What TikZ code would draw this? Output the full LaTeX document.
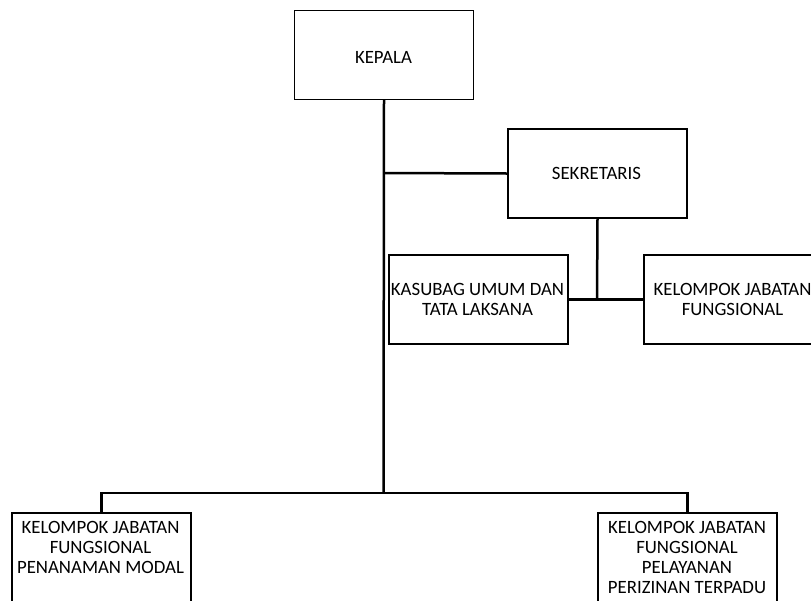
\documentclass[tikz,border=0pt]{standalone}
\usepackage{fontspec}
\setmainfont{Carlito}
\begin{document}
\begin{tikzpicture}[x=1pt,y=-1pt,
  box/.style={draw=black,line width=2pt,fill=white,minimum width=179pt,minimum height=89pt,inner sep=0pt,anchor=north west},
  thinbox/.style={box,line width=1pt},
  lbl/.style={align=center,font=\fontsize{18.8}{20}\selectfont,inner sep=0pt},
  conn/.style={draw=black,line width=2.5pt}]
\useasboundingbox (0,0) rectangle (811,600);
\clip (0,0) rectangle (811,600);
% boxes
\node[thinbox] (kepala) at (294,10) {};
\node[box] (sek) at (507,128) {};
\node[box] (kasubag) at (388,254) {};
\node[box] (kjf) at (643,254) {};
\node[box] (kjfpm) at (11,512) {};
\node[box] (kjfpp) at (597,512) {};
% labels
\node[lbl] at (383.5,57) {KEPALA};
\node[lbl] at (596.5,173) {SEKRETARIS};
\node[lbl] at (477.5,299) {KASUBAG UMUM DAN\\TATA LAKSANA};
\node[lbl] at (732.5,299) {KELOMPOK JABATAN\\FUNGSIONAL};
\node[lbl] at (100.5,547) {KELOMPOK JABATAN\\FUNGSIONAL\\PENANAMAN MODAL};
\node[lbl] at (687,557) {KELOMPOK JABATAN\\FUNGSIONAL\\PELAYANAN\\PERIZINAN TERPADU};
% connectors
\coordinate (bus) at (383.5,493);
\coordinate (sekj) at (383.5,173);
\coordinate (subj) at (597,298);
\draw[conn] (kepala.south) -- (bus);
\draw[conn] (sekj) -- (sek.west);
\draw[conn] (sek.south) -- (subj);
\draw[conn] (kasubag.east) -- (kjf.west);
\draw[conn] (kjfpm.north) |- (bus) -| (kjfpp.north);
\end{tikzpicture}
\end{document}
